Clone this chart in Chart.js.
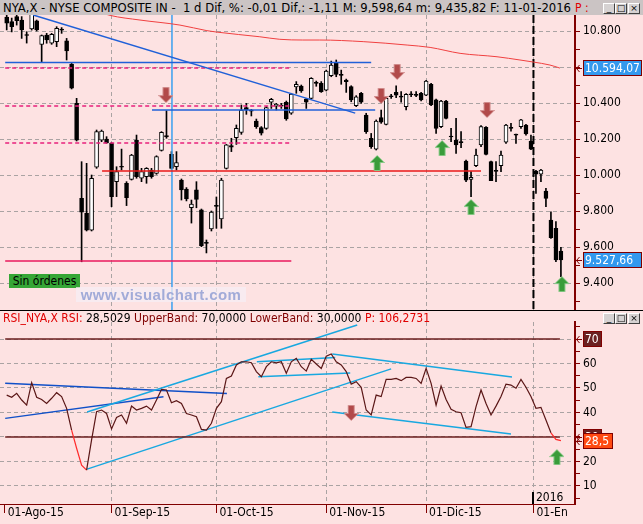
<!DOCTYPE html>
<html>
<head>
<meta charset="utf-8">
<title>NYA,X - RSI</title>
<script src="https://cdn.jsdelivr.net/npm/chart.js"></script>
<style>
  body { margin: 0; width: 643px; height: 524px; overflow: hidden; position: relative; background: #fde2e2;
         font-family: "DejaVu Sans Condensed", "DejaVu Sans", sans-serif; font-size: 12px; }
  #bar { position: absolute; left: 0; top: 0; width: 643px; height: 15px; background: #cbc4c4; }
  .txt { position: absolute; white-space: pre; transform-origin: 0 0; line-height: 14px; }
  #sep { position: absolute; left: 0; top: 310px; width: 643px; height: 1px; background: #000; }
  .btn { position: absolute; width: 10px; height: 9px; background: #d6d2d2; border: 1px solid;
         border-color: #fff #404040 #404040 #fff; font: 9px/9px "DejaVu Sans", sans-serif; text-align: center; color: #000; }
  canvas { position: absolute; left: 0; }
  #wm { position: absolute; left: 76px; top: 287px; width: 170px; height: 15px; background: rgba(246,238,244,0.75);
        color: #a2abd8; font: bold 15px/15px "Liberation Sans", Arial, sans-serif; text-align: center; letter-spacing: 0.4px; }
  #sin { position: absolute; left: 9px; top: 274px; width: 71px; height: 14px; background: #36a636;
         color: #000; font-size: 12px; line-height: 14px; text-align: center; }
  #cut { position: absolute; left: 568px; top: 505px; width: 75px; height: 19px; background: #fde2e2; }
</style>
</head>
<body>
<div id="bar"></div>
<span class="txt" id="t1" style="left:3px;top:1px;">NYA,X - NYSE COMPOSITE IN -  1 d Dif, %: -0,01 Dif,: -1,11 M: 9,598,64 m: 9,435,82 F: 11-01-2016</span>
<span class="txt" style="left:575px;top:1px;color:#e00000;">P :</span>
<div class="btn" style="left:603px;top:3px;">_</div>
<div class="btn" style="left:615px;top:3px;">□</div>
<div class="btn" style="left:628px;top:3px;">×</div>

<canvas id="price" width="643" height="295" style="top:15px;"></canvas>
<canvas id="rsi" width="643" height="213" style="top:311px;"></canvas>
<div id="sep"></div>
<span class="txt" id="t2" style="left:3px;top:311px;"><span style="color:#e00000">RSI_NYA,X RSI: </span>28,5029 <span style="color:#800000">UpperBand: </span>70,0000 <span style="color:#800000">LowerBand: </span>30,0000 <span style="color:#e00000">P: 106,2731</span></span>
<div class="btn" style="left:603px;top:313px;">_</div>
<div class="btn" style="left:615px;top:313px;">□</div>
<div class="btn" style="left:628px;top:313px;">×</div>
<div id="sin">Sin órdenes</div>
<div id="wm">www.visualchart.com</div>
<div id="cut"></div>

<script>
// daily candles, 03-Aug-2015 .. 11-Jan-2016
const opens = [10878, 10852, 10880, 10861, 10780, 10811, 10856, 10726, 10778, 10732,
  10741, 10808, 10745, 10617, 10398, 9870, 9787, 9694, 10043, 10194,
  10200, 10176, 9963, 10046, 9954, 9976, 10194, 9982, 9991, 10028,
  10009, 10137, 10219, 10115, 10046, 9972, 9922, 9818, 9917, 9806,
  9625, 9700, 9830, 9756, 10037, 10163, 10207, 10237, 10374, 10357,
  10300, 10263, 10259, 10404, 10383, 10385, 10404, 10343, 10489, 10494,
  10422, 10426, 10511, 10509, 10472, 10552, 10620, 10557, 10528, 10491,
  10385, 10454, 10333, 10204, 10143, 10319, 10281, 10437, 10459, 10437,
  10380, 10448, 10444, 10454, 10444, 10504, 10417, 10269, 10411, 10215,
  10194, 10183, 10078, 9976, 10052, 10167, 10265, 10074, 10024, 10052,
  10182, 10261, 10228, 10269, 10278, 10189, 10022, 10004, 9911, 9750,
  9704, 9578];
const highs = [10895, 10872, 10895, 10880, 10796, 10920, 10861, 10778, 10787, 10787,
  10824, 10819, 10759, 10620, 10426, 10074, 10065, 10000, 10250, 10250,
  10213, 10180, 10046, 10144, 9963, 10115, 10222, 10037, 10041, 10037,
  10107, 10241, 10357, 10130, 10130, 9978, 9930, 9861, 9963, 9811,
  9639, 9800, 9878, 9982, 10170, 10204, 10278, 10389, 10398, 10365,
  10311, 10269, 10380, 10426, 10398, 10398, 10411, 10454, 10519, 10500,
  10426, 10541, 10522, 10519, 10583, 10633, 10639, 10583, 10533, 10496,
  10441, 10459, 10343, 10231, 10306, 10361, 10435, 10448, 10496, 10463,
  10452, 10463, 10463, 10459, 10526, 10509, 10422, 10415, 10415, 10259,
  10315, 10241, 10083, 10019, 10144, 10274, 10269, 10078, 10074, 10133,
  10281, 10287, 10228, 10309, 10281, 10222, 10026, 10031, 9926, 9796,
  9741, 9598.64];
const lows = [10806, 10795, 10833, 10759, 10733, 10805, 10800, 10630, 10732, 10726,
  10713, 10787, 10639, 10478, 10189, 9518, 9689, 9689, 10037, 10185,
  10176, 9824, 9880, 10028, 9830, 9972, 9982, 9963, 9954, 9982,
  10004, 10133, 10204, 10033, 10028, 9861, 9856, 9733, 9818, 9602,
  9567, 9689, 9704, 9704, 10033, 10130, 10170, 10226, 10337, 10328,
  10259, 10222, 10254, 10370, 10361, 10370, 10304, 10337, 10454, 10459,
  10370, 10422, 10493, 10459, 10467, 10546, 10546, 10504, 10459, 10407,
  10380, 10398, 10231, 10148, 10139, 10287, 10278, 10426, 10430, 10404,
  10361, 10435, 10435, 10411, 10441, 10385, 10231, 10263, 10311, 10185,
  10120, 10152, 9963, 9880, 10046, 10157, 10111, 9969, 9963, 10019,
  10176, 10244, 10176, 10259, 10222, 10141, 9898, 9963, 9824, 9648,
  9518, 9435.82];
const closes = [10844, 10824, 10857, 10806, 10775, 10900, 10806, 10774, 10750, 10782,
  10815, 10805, 10689, 10482, 10194, 9793, 9694, 9982, 10241, 10244,
  10178, 9880, 10019, 10043, 9874, 10111, 9991, 10019, 10037, 9991,
  10102, 10237, 10211, 10037, 10069, 9917, 9867, 9839, 9865, 9607,
  9620, 9794, 9826, 9972, 10167, 10154, 10259, 10361, 10361, 10355,
  10269, 10232, 10374, 10420, 10393, 10383, 10311, 10450, 10504, 10467,
  10404, 10537, 10509, 10463, 10578, 10611, 10559, 10554, 10519, 10417,
  10435, 10404, 10241, 10157, 10300, 10293, 10426, 10435, 10444, 10433,
  10448, 10446, 10442, 10417, 10522, 10389, 10259, 10411, 10315, 10211,
  10167, 10180, 9972, 9987, 10111, 10269, 10115, 9969, 10020, 10111,
  10278, 10259, 10222, 10306, 10228, 10144, 10004, 10028, 9870, 9652,
  9528.77, 9527.66];
const rsiValues = [47.1, 46.2, 47.8, 45.1, 43.0, 52.2, 46.2, 45.3, 43.7, 45.8,
  48.1, 46.5, 41.7, 32.8, 25.4, 18.5, 16.5, 28.8, 40.3, 41.0,
  39.6, 33.3, 38.0, 39.0, 35.6, 42.6, 41.0, 41.7, 42.6, 41.0,
  45.1, 49.4, 49.2, 44.0, 44.8, 43.7, 39.6, 39.0, 38.3, 33.1,
  32.8, 35.6, 41.7, 44.4, 53.9, 54.9, 59.4, 60.7, 60.7, 60.3,
  56.7, 54.6, 58.7, 60.7, 60.3, 60.7, 56.0, 60.7, 62.1, 58.7,
  56.9, 61.7, 59.8, 58.0, 63.0, 63.9, 60.7, 59.4, 56.7, 51.6,
  52.6, 50.3, 41.0, 39.0, 47.1, 46.5, 53.5, 53.5, 53.9, 53.0,
  54.3, 54.3, 53.9, 51.9, 58.0, 51.9, 43.0, 50.8, 45.3, 41.3,
  40.3, 39.9, 33.9, 34.2, 42.4, 49.2, 43.7, 39.0, 42.6, 46.5,
  51.6, 51.2, 49.9, 53.5, 50.3, 46.5, 41.7, 42.1, 36.9, 31.7,
  29.0, 28.5029];

// red moving average, read at a few points (bar index, price)
const maIdx = [16, 20.7, 26.7, 34.7, 40.1, 42.1, 50.7, 54.7, 59.3, 62.7, 71.4, 80.2, 84.8, 90.8, 98.2, 102.8, 105.4, 108.8, 110.8];
const maVal = [10930, 10887, 10861, 10833, 10802, 10794, 10768, 10754, 10750, 10750, 10741, 10722, 10709, 10676, 10657, 10639, 10628, 10611, 10594.07];

// drawn studies on the price panel (bar index, price)
const blueDiag = [[5.3, 10889], [69.8, 10344]];
const blueTop = [[-0.3, 10625], [73.0, 10625]];
const blueMid = [[29.1, 10361], [73.8, 10361]];
const redSupport = [[19.1, 10022], [95.0, 10022]];
const lowLine = [[-0.3, 9522], [57.0, 9522]];
const pinkLevels = [10594, 10383, 10178];
const pinkSpan = [-0.3, 56.7];
const cursorIdx = 33.1;
const downArrows = [[31.9, 10444], [78.2, 10572], [75.0, 10439], [96.2, 10361]];
const upArrows = [[74.2, 10067], [87.2, 10150], [93.0, 9822], [111.2, 9394]];

// drawn studies on the RSI panel (bar index, RSI)
const rsiLineA = [[16.1, 40.2], [70.2, 75.7]];
const rsiLineB = [[16.1, 16.9], [77.0, 57.8]];
const rsiLineC = [[-0.3, 51.9], [44.1, 47.8]];
const rsiLineD = [[-0.3, 37.6], [31.4, 46.4]];
const rsiLineE1 = [[50.1, 60.7], [65.8, 62.4]];
const rsiLineE2 = [[50.4, 54.6], [68.8, 56.1]];
const rsiLineF = [[65.2, 63.9], [101.2, 54.5]];
const rsiLineG = [[65.2, 40.2], [101.0, 31.2]];
const bandSpan = [-0.3, 110.8];
const rsiDown = [[69.0, 39.8]];
const rsiUp = [[110.2, 21.8]];

const upperBand = 70, lowerBand = 30;
const lastMA = 10594.07, lastClose = 9527.66, lastRsi = 28.5029;

const monthTicks = [-0.4, 21, 42, 64, 84, 105.5];
const monthLabels = ['01-Ago-15', '01-Sep-15', '01-Oct-15', '01-Nov-15', '01-Dic-15', '01-Ene'];
const yearIdx = 105.5;
const yearLabel = '2016';
const priceTicks = [9300, 9400, 9500, 9600, 9700, 9800, 9900, 10000, 10100, 10200, 10300, 10400, 10500, 10600, 10700, 10800];
const rsiTicks = [5, 10, 15, 20, 25, 30, 35, 40, 45, 50, 55, 60, 65, 70, 75];

const xMin = -1.342, xMax = 113.82;
const pMin = 9250, pMax = 10889;
const rMin = 2.65, rMax = 76.94;

const FONT = '"DejaVu Sans Condensed", "DejaVu Sans", sans-serif';
const GRID = '#aaa3a3';
const AXIS = '#800000';

function fit(id, w) {
  const el = document.getElementById(id);
  el.style.transform = 'scaleX(' + (w / el.getBoundingClientRect().width) + ')';
}
fit('t1', 568);
fit('t2', 427);

function dots(s) { return String(Math.round(s)).replace(/\B(?=(\d{3})+(?!\d))/g, '.'); }

function makeArrow(fill, edge, down) {
  const c = document.createElement('canvas');
  c.width = 15; c.height = 16;
  const g = c.getContext('2d');
  const pts = [[7.5, 0.5], [14.5, 7.5], [10.5, 7.5], [10.5, 15.5], [4.5, 15.5], [4.5, 7.5], [0.5, 7.5]];
  g.beginPath();
  pts.forEach(([x, y], k) => {
    const yy = down ? 16 - y : y;
    if (k) g.lineTo(x, yy); else g.moveTo(x, yy);
  });
  g.closePath();
  g.fillStyle = fill; g.fill();
  g.strokeStyle = edge; g.lineWidth = 1; g.stroke();
  return c;
}
const downImg = makeArrow('#b24a4a', '#d08a8a', true);
const upImg = makeArrow('#3a9c3a', '#86c986', false);

function seg(points, color, width, dash) {
  return { type: 'line', data: points.map(([x, y]) => ({ x, y })), borderColor: color, borderWidth: width,
           borderDash: dash || [], pointRadius: 0, fill: false, order: 1 };
}
function marks(points, img) {
  return { type: 'line', data: points.map(([x, y]) => ({ x, y })), showLine: false, pointStyle: img,
           pointRadius: 8, order: 0 };
}

// the axes should not push the plot area in for their end labels
function noPad(s) { s.paddingTop = 0; s.paddingBottom = 0; s.paddingLeft = 0; s.paddingRight = 0; }

function valueBox(ctx, y, text, fill, w) {
  const x = 583;
  const yy = Math.round(y);
  ctx.save();
  ctx.fillStyle = fill;
  ctx.fillRect(x, yy - 8, w, 16);
  ctx.strokeStyle = AXIS; ctx.lineWidth = 1;
  ctx.strokeRect(x + 0.5, yy - 7.5, w - 1, 15);
  ctx.fillStyle = '#fff';
  ctx.font = '12px ' + FONT;
  ctx.textBaseline = 'middle';
  ctx.fillText(text, x + 2, yy + 1);
  ctx.beginPath();
  ctx.moveTo(576, yy + 0.5); ctx.lineTo(582, yy + 0.5);
  ctx.moveTo(579.5, yy - 3); ctx.lineTo(576.5, yy + 0.5); ctx.lineTo(579.5, yy + 4);
  ctx.stroke();
  ctx.restore();
}

const idx = opens.map((_, i) => i);

const xGrid = {
  type: 'linear', min: xMin, max: xMax, offset: false,
  afterBuildTicks: s => { s.ticks = monthTicks.map(v => ({ value: v })); },
  grid: { offset: false, color: c => (c.tick && c.tick.value === monthTicks[0]) ? 'rgba(0,0,0,0)' : GRID,
          lineWidth: 1, tickColor: AXIS, tickLength: 9 },
  border: { display: false, dash: [4, 3] }
};

// ---------- price panel ----------
new Chart(document.getElementById('price'), {
  type: 'bar',
  data: {
    datasets: [
      { type: 'bar', data: idx.map(i => ({ x: i, y: [lows[i], highs[i]] })), backgroundColor: '#000',
        barThickness: 1, maxBarThickness: 1, grouped: false, borderSkipped: false, order: 3 },
      { type: 'bar', data: idx.map(i => ({ x: i, y: [opens[i], closes[i]] })),
        backgroundColor: idx.map(i => closes[i] >= opens[i] ? '#fff' : '#000'),
        borderColor: '#000', borderWidth: 1, barThickness: 4, maxBarThickness: 4, minBarLength: 1,
        grouped: false, borderSkipped: false, order: 2 },
      { type: 'line', data: maIdx.map((x, k) => ({ x, y: maVal[k] })), borderColor: '#f04040', borderWidth: 1,
        pointRadius: 0, cubicInterpolationMode: 'monotone', order: 1 },
      seg(blueDiag, '#2060d8', 1.5),
      seg(blueTop, '#2060d8', 1.5),
      seg(blueMid, '#2060d8', 1.5),
      seg(redSupport, '#e81818', 1.5),
      seg(lowLine, '#e8185c', 1.5),
      ...pinkLevels.map(v => seg([[pinkSpan[0], v], [pinkSpan[1], v]], '#e8207c', 1.5, [4, 3])),
      seg([[cursorIdx, pMax], [cursorIdx, pMin]], '#3aa0f0', 1.5),
      seg([[yearIdx, pMax], [yearIdx, pMin]], '#000', 2, [8, 3]),
      marks(downArrows, downImg),
      marks(upArrows, upImg)
    ]
  },
  options: {
    responsive: false, animation: false, events: [],
    layout: { padding: 0, autoPadding: false },
    plugins: { legend: { display: false }, tooltip: { enabled: false } },
    scales: {
      x: Object.assign({}, xGrid, {
        ticks: { display: false },
        grid: Object.assign({}, xGrid.grid, { drawTicks: false }),
        afterFit: s => { s.height = 0; noPad(s); }
      }),
      y: {
        position: 'right', min: pMin, max: pMax,
        afterBuildTicks: s => { s.ticks = priceTicks.map(v => ({ value: v })); },
        afterFit: s => { s.width = 68; noPad(s); },
        grid: { color: c => (c.tick && c.tick.value % 200 === 0) ? GRID : 'rgba(0,0,0,0)', tickColor: AXIS, tickLength: 5 },
        border: { display: true, color: AXIS, width: 2, dash: [4, 3] },
        ticks: { padding: 3, color: '#000', font: { family: FONT, size: 12 }, autoSkip: false,
                 callback: v => v % 200 === 0 ? dots(v) : '' }
      }
    }
  },
  plugins: [{
    id: 'boxes1',
    afterDraw(chart) {
      const y = chart.scales.y;
      valueBox(chart.ctx, y.getPixelForValue(lastMA), '10.594,07', '#3399ee', 59);
      valueBox(chart.ctx, y.getPixelForValue(lastClose), '9.527,66', '#3399ee', 59);
    }
  }]
});

// ---------- RSI panel ----------
new Chart(document.getElementById('rsi'), {
  type: 'line',
  data: {
    datasets: [
      seg([[bandSpan[0], upperBand], [bandSpan[1], upperBand]], '#6a1e1e', 1.5),
      seg([[bandSpan[0], lowerBand], [bandSpan[1], lowerBand]], '#6a1e1e', 1.5),
      seg(rsiLineA, '#18a8e0', 1.5),
      seg(rsiLineB, '#18a8e0', 1.5),
      seg(rsiLineC, '#1050c8', 1.5),
      seg(rsiLineD, '#1050c8', 1.5),
      seg(rsiLineE1, '#18a8e0', 1.5),
      seg(rsiLineE2, '#18a8e0', 1.5),
      seg(rsiLineF, '#18a8e0', 1.5),
      seg(rsiLineG, '#18a8e0', 1.5),
      { type: 'line', data: idx.map(i => ({ x: i, y: rsiValues[i] })), borderColor: '#5a1616', borderWidth: 1.2,
        pointRadius: 0, order: 0,
        segment: { borderColor: c => (Math.min(c.p0.parsed.y, c.p1.parsed.y) < lowerBand && c.p1.parsed.y <= c.p0.parsed.y) ? '#ff2a2a' : undefined } },
      marks(rsiDown, downImg),
      marks(rsiUp, upImg)
    ]
  },
  options: {
    responsive: false, animation: false, events: [],
    layout: { padding: { top: 11 }, autoPadding: false },
    plugins: { legend: { display: false }, tooltip: { enabled: false } },
    scales: {
      x: Object.assign({}, xGrid, {
        border: { display: true, color: AXIS, width: 1, dash: [4, 3] },
        ticks: { color: '#000', font: { family: FONT, size: 12 }, align: 'start', labelOffset: 3, padding: -7,
                 maxRotation: 0, autoSkip: false, callback: (v, i) => monthLabels[i] },
        afterFit: s => { s.height = 20; noPad(s); }
      }),
      y: {
        position: 'right', min: rMin, max: rMax,
        afterBuildTicks: s => { s.ticks = rsiTicks.map(v => ({ value: v })); },
        afterFit: s => { s.width = 68; noPad(s); },
        grid: { color: c => (c.tick && c.tick.value % 10 === 0) ? GRID : 'rgba(0,0,0,0)', tickColor: AXIS, tickLength: 5 },
        border: { display: true, color: AXIS, width: 2, dash: [4, 3] },
        ticks: { padding: 3, color: '#000', font: { family: FONT, size: 12 }, autoSkip: false,
                 callback: v => (v % 10 === 0 && v !== upperBand && v !== lowerBand) ? String(v) : '' }
      }
    }
  },
  plugins: [{
    id: 'boxes2',
    afterDraw(chart) {
      const { ctx, chartArea } = chart;
      const y = chart.scales.y, x = chart.scales.x;
      valueBox(ctx, y.getPixelForValue(upperBand), '70', '#6b2020', 19);
      valueBox(ctx, y.getPixelForValue(lowerBand), '30', '#6b2020', 19);
      valueBox(ctx, y.getPixelForValue(lastRsi) + 0.5, '28,5', '#ff4a12', 30);
      const px = Math.round(x.getPixelForValue(yearIdx));
      ctx.save();
      ctx.fillStyle = '#000';
      ctx.fillRect(px - 1, chartArea.bottom - 12, 2, 12);
      ctx.font = '12px ' + FONT;
      ctx.textBaseline = 'alphabetic';
      ctx.fillText(yearLabel, px + 3, chartArea.bottom - 3);
      ctx.restore();
    }
  }]
});
</script>
</body>
</html>
